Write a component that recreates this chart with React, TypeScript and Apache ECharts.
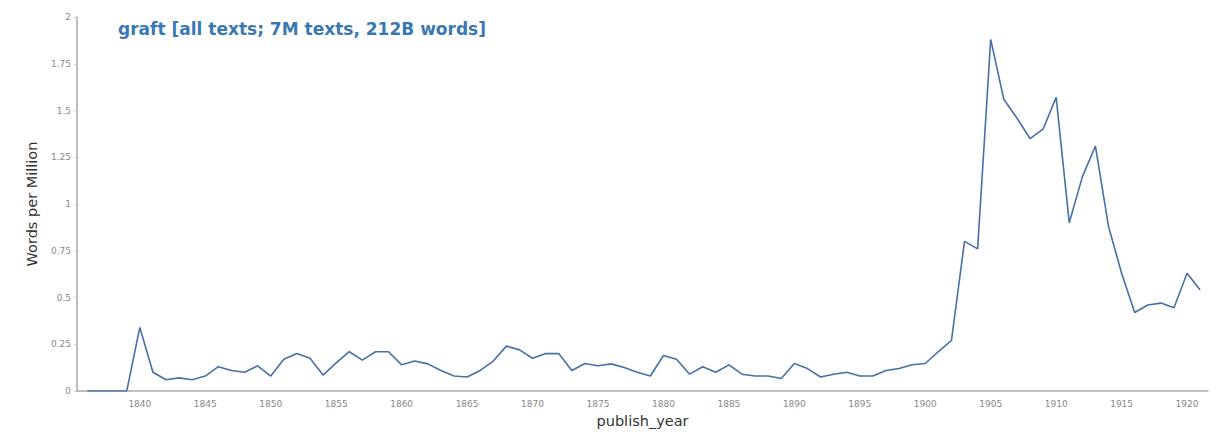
import React, { useEffect, useRef } from "react";
import * as echarts from "echarts";

const years: number[] = [];
for (let y = 1836; y <= 1921; y++) years.push(y);

const values: number[] = [
  0, 0, 0, 0, // 1836-1839
  0.34, 0.10, 0.06, 0.07, 0.06, 0.08, 0.13, 0.11, 0.10, 0.135, // 1840-1849
  0.08, 0.17, 0.20, 0.175, 0.085, 0.15, 0.21, 0.165, 0.21, 0.21, // 1850-1859
  0.14, 0.16, 0.145, 0.11, 0.08, 0.075, 0.11, 0.16, 0.24, 0.22, // 1860-1869
  0.175, 0.20, 0.20, 0.11, 0.147, 0.135, 0.145, 0.126, 0.10, 0.08, // 1870-1879
  0.19, 0.17, 0.09, 0.13, 0.10, 0.14, 0.09, 0.08, 0.08, 0.067, // 1880-1889
  0.147, 0.12, 0.075, 0.09, 0.10, 0.08, 0.08, 0.11, 0.12, 0.14, // 1890-1899
  0.147, 0.21, 0.27, 0.80, 0.76, 1.88, 1.56, 1.46, 1.35, 1.40, // 1900-1909
  1.57, 0.90, 1.145, 1.31, 0.88, 0.63, 0.42, 0.46, 0.47, 0.445, // 1910-1919
  0.63, 0.54, // 1920-1921
];

const xTicks = [1840, 1845, 1850, 1855, 1860, 1865, 1870, 1875, 1880, 1885, 1890, 1895, 1900, 1905, 1910, 1915, 1920];
const titleText = "graft [all texts; 7M texts, 212B words]";

export default function App() {
  const ref = useRef<HTMLDivElement>(null);
  useEffect(() => {
    if (!ref.current) return;
    const chart = echarts.init(ref.current, null, { renderer: "svg" });
    chart.setOption({
      animation: false,
      backgroundColor: "#ffffff",
      title: {
        text: titleText,
        left: 105,
        top: 7,
        textStyle: {
          fontFamily: "DejaVu Sans",
          fontWeight: "bold",
          fontSize: 17,
          color: "#3a78b4",
        },
      },
      grid: { left: 69, right: 2, top: 9, bottom: 40 },
      xAxis: {
        type: "value",
        min: 1835.2,
        max: 1921.6,
        name: "publish_year",
        nameLocation: "middle",
        nameGap: 22,
        nameTextStyle: { fontFamily: "DejaVu Sans", fontSize: 14.5, color: "#333" },
        axisLine: { show: true, lineStyle: { color: "#aaaaaa", width: 1.5 } },
        axisTick: { show: false },
        splitLine: { show: false },
        axisLabel: {
          customValues: xTicks,
          fontFamily: "DejaVu Sans",
          fontSize: 9,
          color: "#888",
          margin: 8,
          formatter: (v: number) => String(v),
        },
      },
      yAxis: {
        type: "value",
        min: 0,
        max: 2,
        interval: 0.25,
        name: "Words per Million",
        nameLocation: "middle",
        nameGap: 38,
        nameTextStyle: { fontFamily: "DejaVu Sans", fontSize: 14.5, color: "#333" },
        axisLine: { show: true, lineStyle: { color: "#aaaaaa", width: 1.5 } },
        axisTick: { show: true, length: 3, lineStyle: { color: "#ccc" } },
        splitLine: { show: false },
        axisLabel: {
          fontFamily: "DejaVu Sans",
          fontSize: 9,
          color: "#888",
          margin: 6,
          formatter: (v: number) => String(v),
        },
      },
      series: [
        {
          type: "line",
          data: years.map((y, i) => [y, values[i]]),
          showSymbol: false,
          lineStyle: { color: "#4670a8", width: 1.6 },
          itemStyle: { color: "#4670a8" },
        },
      ],
    });
    return () => chart.dispose();
  }, []);
  return <div ref={ref} style={{ width: 1202, height: 425 }} />;
}
